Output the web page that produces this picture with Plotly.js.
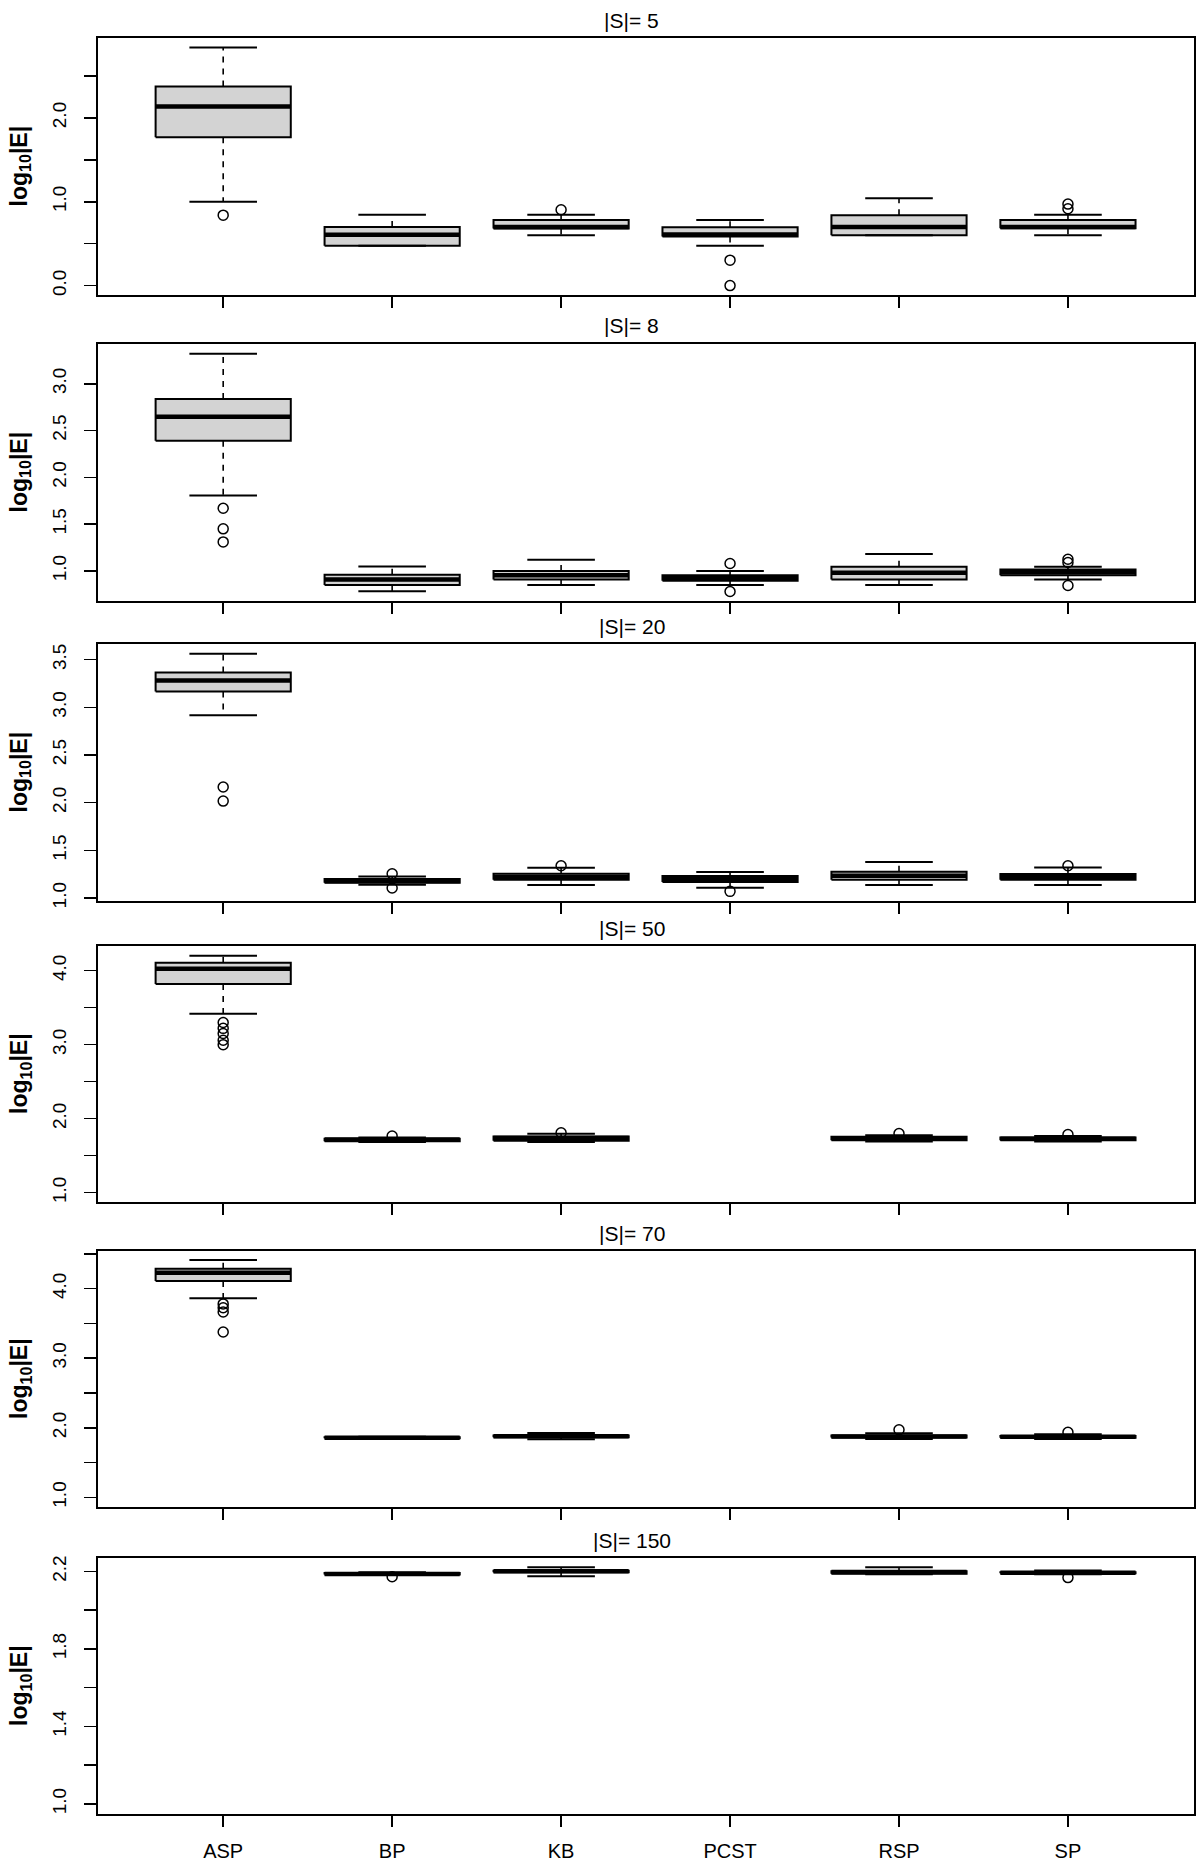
<!DOCTYPE html>
<html>
<head>
<meta charset="utf-8">
<script src="https://cdn.plot.ly/plotly-3.0.1.min.js"></script>
<style>html,body{margin:0;padding:0;background:#fff;}#chart{width:1200px;height:1862px;}</style>
</head>
<body>
<div id="chart"></div>
<script>
// ---------------- data (log10 |E|), one row per |S| panel, one column per method ----------------
const categories = ['ASP', 'BP', 'KB', 'PCST', 'RSP', 'SP'];
const setSizes = [5, 8, 20, 50, 70, 150];

const whiskerLow = [
  [1.00, 0.474, 0.60, 0.474, 0.60, 0.60],
  [1.806, 0.783, 0.85, 0.85, 0.85, 0.908],
  [2.916, 1.14, 1.136, 1.109, 1.137, 1.137],
  [3.416, 1.685, 1.684, null, 1.69, 1.69],
  [3.86, 1.845, 1.835, null, 1.84, 1.84],
  [null, 2.183, 2.175, null, 2.185, 2.185]
];
const quartile1 = [
  [1.769, 0.474, 0.68, 0.586, 0.60, 0.685],
  [2.39, 0.85, 0.908, 0.896, 0.908, 0.955],
  [3.167, 1.16, 1.192, 1.168, 1.193, 1.193],
  [3.82, 1.695, 1.70, null, 1.71, 1.71],
  [4.11, 1.85, 1.865, null, 1.86, 1.855],
  [null, 2.184, 2.196, null, 2.188, 2.19]
];
const medians = [
  [2.135, 0.606, 0.70, 0.61, 0.70, 0.70],
  [2.647, 0.908, 0.955, 0.927, 0.98, 0.985],
  [3.282, 1.178, 1.22, 1.20, 1.235, 1.22],
  [4.027, 1.72, 1.738, null, 1.735, 1.73],
  [4.23, 1.858, 1.877, null, 1.875, 1.87],
  [null, 2.186, 2.20, null, 2.197, 2.193]
];
const quartile3 = [
  [2.375, 0.70, 0.781, 0.697, 0.84, 0.781],
  [2.836, 0.96, 1.00, 0.955, 1.045, 1.015],
  [3.366, 1.20, 1.255, 1.231, 1.277, 1.252],
  [4.108, 1.728, 1.76, null, 1.755, 1.745],
  [4.287, 1.865, 1.89, null, 1.89, 1.88],
  [null, 2.192, 2.203, null, 2.20, 2.196]
];
const whiskerHigh = [
  [2.84, 0.845, 0.845, 0.781, 1.04, 0.845],
  [3.32, 1.047, 1.12, 1.00, 1.18, 1.045],
  [3.562, 1.227, 1.318, 1.273, 1.378, 1.319],
  [4.202, 1.745, 1.796, null, 1.775, 1.765],
  [4.41, 1.87, 1.925, null, 1.92, 1.905],
  [null, 2.195, 2.221, null, 2.221, 2.205]
];
const outlierValues = [
  [[0.84], [], [0.904], [0.303, 0.0], [], [0.972, 0.916]],
  [[1.67, 1.45, 1.31], [], [], [1.08, 0.78], [], [1.125, 1.09, 0.845]],
  [[2.164, 2.017], [1.255, 1.105], [1.339], [1.07], [], [1.339]],
  [[3.30, 3.22, 3.15, 3.06, 3.00], [1.765], [1.81], [], [1.80], [1.785]],
  [[3.78, 3.726, 3.664, 3.377], [], [], [], [1.97], [1.935]],
  [[], [2.172], [], [], [], [2.168]]
];

// ---------------- axis ticks per panel ----------------
const yLabelVals = [
  [0, 1, 2],
  [1, 1.5, 2, 2.5, 3],
  [1, 1.5, 2, 2.5, 3, 3.5],
  [1, 2, 3, 4],
  [1, 2, 3, 4],
  [1, 1.4, 1.8, 2.2]
];
const yLabelText = [
  ['0.0', '1.0', '2.0'],
  ['1.0', '1.5', '2.0', '2.5', '3.0'],
  ['1.0', '1.5', '2.0', '2.5', '3.0', '3.5'],
  ['1.0', '2.0', '3.0', '4.0'],
  ['1.0', '2.0', '3.0', '4.0'],
  ['1.0', '1.4', '1.8', '2.2']
];
const yUnlabeledVals = [
  [0.5, 1.5, 2.5],
  [],
  [],
  [1.5, 2.5, 3.5],
  [1.5, 2.5, 3.5, 4.5],
  [1.2, 1.6, 2.0]
];
const yRanges = [
  [-0.112, 2.952], [0.679, 3.424], [0.969, 3.664],
  [0.874, 4.333], [0.861, 4.541], [0.948, 2.269]
];

// ---------------- layout geometry (pixels) ----------------
const W = 1200, H = 1862;
const boxLeft = 98, boxRight = 1194;
const panelTop = [38, 344, 644, 946, 1251, 1558];
const panelBottom = [295, 601, 901, 1202, 1507, 1814];
const titleX = 632;
const HALF = 0.4, STAPLE = 0.2;
const FONT = 'Liberation Sans, Arial, Helvetica, sans-serif';

const traces = [];
const layout = {
  width: W, height: H,
  margin: {l: 0, r: 0, t: 0, b: 0},
  paper_bgcolor: '#ffffff', plot_bgcolor: '#ffffff',
  showlegend: false,
  font: {family: FONT, color: '#000'},
  annotations: []
};

const xDomain = [boxLeft / W, boxRight / W];

setSizes.forEach((s, p) => {
  const n = p + 1;
  const xa = n === 1 ? 'x' : 'x' + n;
  const ya = n === 1 ? 'y' : 'y' + n;
  const yDomain = [1 - panelBottom[p] / H, 1 - panelTop[p] / H];

  const bx = [], by = [], wx = [], wy = [], sx = [], sy = [], mx = [], my = [], ox = [], oy = [];
  categories.forEach((c, i) => {
    const xc = i + 1;
    const lo = whiskerLow[p][i], a = quartile1[p][i], m = medians[p][i], b = quartile3[p][i], hi = whiskerHigh[p][i];
    if (m !== null) {
      bx.push(xc - HALF, xc + HALF, xc + HALF, xc - HALF, xc - HALF, null);
      by.push(a, a, b, b, a, null);
      wx.push(xc, xc, null, xc, xc, null);
      wy.push(b, hi, null, a, lo, null);
      sx.push(xc - STAPLE, xc + STAPLE, null, xc - STAPLE, xc + STAPLE, null);
      sy.push(hi, hi, null, lo, lo, null);
      mx.push(xc - HALF, xc + HALF, null);
      my.push(m, m, null);
    }
    outlierValues[p][i].forEach(v => { ox.push(xc); oy.push(v); });
  });

  traces.push({type: 'scatter', mode: 'lines', xaxis: xa, yaxis: ya, x: bx, y: by,
    fill: 'toself', fillcolor: '#d3d3d3', line: {color: '#000', width: 2}, hoverinfo: 'skip'});
  traces.push({type: 'scatter', mode: 'lines', xaxis: xa, yaxis: ya, x: wx, y: wy,
    line: {color: '#000', width: 1.6, dash: '6px,6px'}, hoverinfo: 'skip'});
  traces.push({type: 'scatter', mode: 'lines', xaxis: xa, yaxis: ya, x: sx, y: sy,
    line: {color: '#000', width: 2}, hoverinfo: 'skip'});
  traces.push({type: 'scatter', mode: 'lines', xaxis: xa, yaxis: ya, x: mx, y: my,
    line: {color: '#000', width: 4.5}, hoverinfo: 'skip'});
  traces.push({type: 'scatter', mode: 'markers', xaxis: xa, yaxis: ya, x: ox, y: oy,
    marker: {symbol: 'circle-open', size: 10, color: '#000', line: {width: 1.5, color: '#000'}}, hoverinfo: 'skip'});

  const isLast = p === setSizes.length - 1;
  layout['xaxis' + (n === 1 ? '' : n)] = {
    domain: xDomain, anchor: ya, range: [0.259, 6.746],
    tickmode: 'array', tickvals: categories.map((c, i) => i + 1),
    ticktext: categories,
    showticklabels: isLast,
    ticks: 'outside', ticklen: 11, tickwidth: 1.6, tickcolor: '#000',
    showline: true, linewidth: 2, linecolor: '#000', mirror: true,
    showgrid: false, zeroline: false, fixedrange: true,
    tickfont: {family: FONT, size: 20, color: '#000'},
    ticklabelstandoff: 7
  };
  layout['yaxis' + (n === 1 ? '' : n)] = {
    domain: yDomain, anchor: xa, range: yRanges[p],
    tickmode: 'array', tickvals: yLabelVals[p], ticktext: yLabelText[p],
    minor: {tickmode: 'array', tickvals: yUnlabeledVals[p], ticks: 'outside',
            ticklen: 12, tickwidth: 1.6, tickcolor: '#000', showgrid: false},
    tickangle: -90,
    ticks: 'outside', ticklen: 12, tickwidth: 1.6, tickcolor: '#000',
    showline: true, linewidth: 2, linecolor: '#000', mirror: true,
    showgrid: false, zeroline: false, fixedrange: true,
    tickfont: {family: FONT, size: 19, color: '#000'},
    ticklabelstandoff: 10
  };

  layout.annotations.push({
    xref: 'paper', yref: 'paper', x: titleX / W, y: 1 - (panelTop[p] - 18) / H,
    text: '|S|= ' + s, showarrow: false, xanchor: 'center', yanchor: 'middle',
    font: {family: FONT, size: 21, color: '#000'}
  });
  layout.annotations.push({
    xref: 'paper', yref: 'paper', x: 20 / W, y: (yDomain[0] + yDomain[1]) / 2,
    text: '<b>log<sub>10</sub>|E|</b>', textangle: -90, showarrow: false,
    xanchor: 'center', yanchor: 'middle',
    font: {family: FONT, size: 23, color: '#000'}
  });
});

Plotly.newPlot('chart', traces, layout, {displayModeBar: false, staticPlot: true});
</script>
</body>
</html>
